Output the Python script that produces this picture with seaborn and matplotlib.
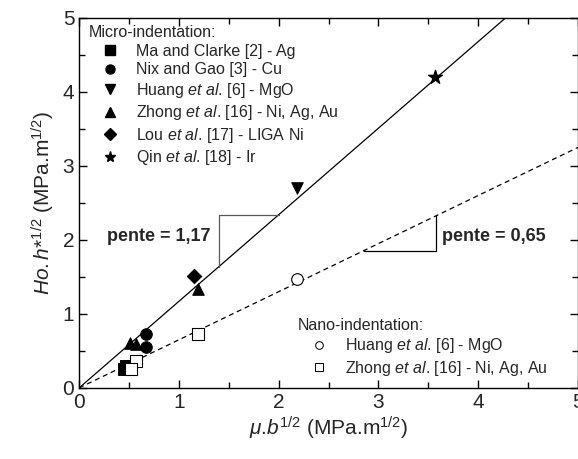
import numpy as np
import pandas as pd
import seaborn as sns
import matplotlib.pyplot as plt
from matplotlib.ticker import MultipleLocator

# micro-indentation data (mu.b^1/2, Ho.h*^1/2)
ma_x = [0.45, 0.47]
ma_y = [0.25, 0.29]
nix_x = [0.67, 0.67]
nix_y = [0.73, 0.55]
huang_x = [2.18]
huang_y = [2.70]
zhong_x = [0.51, 0.57, 1.19]
zhong_y = [0.61, 0.59, 1.34]
lou_x = [1.15]
lou_y = [1.51]
qin_x = [3.57]
qin_y = [4.20]

# nano-indentation data
nhuang_x = [2.18]
nhuang_y = [1.47]
nzhong_x = [0.57, 0.52, 1.19]
nzhong_y = [0.36, 0.26, 0.73]

slope_micro = 1.17
slope_nano = 0.65

sns.set_theme(style="ticks")
plt.rcParams['font.family'] = ['Liberation Sans', 'DejaVu Sans']
plt.rcParams['mathtext.fontset'] = 'custom'
plt.rcParams['mathtext.rm'] = 'Liberation Sans'
plt.rcParams['mathtext.it'] = 'Liberation Sans:italic'
plt.rcParams['mathtext.bf'] = 'Liberation Sans:bold'

fig = plt.figure(figsize=(5.78, 4.59), dpi=100)
ax = fig.add_axes([0.137, 0.155, 0.863, 0.806])

# fitted lines
xl = np.array([0, 5])
sns.lineplot(x=xl, y=slope_micro * xl, color="black", lw=0.9, ax=ax)
sns.lineplot(x=xl, y=slope_nano * xl, color="black", lw=0.9, ax=ax)
ax.lines[1].set_dashes([4, 3])

# slope triangles
x1, x2 = 1.4, 2.0
ax.plot([x1, x1, x2], [slope_micro * x1, slope_micro * x2, slope_micro * x2], color="0.35", lw=0.9)
x3, x4 = 2.85, 3.58
ax.plot([x3, x4, x4], [slope_nano * x3, slope_nano * x3, slope_nano * x4], color="black", lw=0.9)
ax.text(0.28, 2.04, "pente = 1,17", fontsize=13, fontweight="bold", va="center")
ax.text(3.64, 2.05, "pente = 0,65", fontsize=13, fontweight="bold", va="center")

etal = r"$\mathit{et\ al}$."
micro = [
    (ma_x, ma_y, "s", "Ma and Clarke [2] - Ag"),
    (nix_x, nix_y, "o", "Nix and Gao [3] - Cu"),
    (huang_x, huang_y, "v", "Huang " + etal + " [6] - MgO"),
    (zhong_x, zhong_y, "^", "Zhong " + etal + " [16] - Ni, Ag, Au"),
    (lou_x, lou_y, "D", "Lou " + etal + " [17] - LIGA Ni"),
    (qin_x, qin_y, "*", "Qin " + etal + " [18] - Ir"),
]
h_micro = []
for xs, ys, m, lab in micro:
    s = 110 if m == "*" else (55 if m == "D" else 70)
    sns.scatterplot(x=xs, y=ys, marker=m, color="black", edgecolor="black",
                    s=s, ax=ax, zorder=5)
    h_micro.append(plt.Line2D([], [], ls="", marker=m, color="black",
                              markersize=8 if m == "*" else 6.5, label=lab))

nano = [
    (nhuang_x, nhuang_y, "o", "Huang " + etal + " [6] - MgO"),
    (nzhong_x, nzhong_y, "s", "Zhong " + etal + " [16] - Ni, Ag, Au"),
]
h_nano = []
for xs, ys, m, lab in nano:
    sns.scatterplot(x=xs, y=ys, marker=m, facecolor="white", edgecolor="black",
                    linewidth=0.8, s=70, ax=ax, zorder=5)
    h_nano.append(plt.Line2D([], [], ls="", marker=m, markerfacecolor="white",
                             markeredgecolor="black", markeredgewidth=0.7,
                             markersize=5.5, label=lab))

leg_kw = dict(frameon=False, fontsize=11.5, title_fontsize=11.5, alignment="left",
              handlelength=2.7, handletextpad=0.3, labelspacing=0.22,
              borderaxespad=0.0, borderpad=0.4)
leg1 = ax.legend(handles=h_micro, title="Micro-indentation:", loc="upper left",
                 bbox_to_anchor=(0.006, 0.997), **leg_kw)
ax.add_artist(leg1)
ax.legend(handles=h_nano, title="Nano-indentation:", loc="lower left",
          bbox_to_anchor=(0.425, 0.01), **leg_kw)

ax.set_xlim(0, 5)
ax.set_ylim(0, 5)
ax.xaxis.set_major_locator(MultipleLocator(1))
ax.yaxis.set_major_locator(MultipleLocator(1))
ax.xaxis.set_minor_locator(MultipleLocator(0.5))
ax.yaxis.set_minor_locator(MultipleLocator(0.5))
ax.tick_params(which="both", direction="in", top=True, right=True,
               labelsize=15, width=1, color="black")
ax.tick_params(which="major", length=6)
ax.tick_params(which="minor", length=4)
for sp in ax.spines.values():
    sp.set_linewidth(1)
    sp.set_color("black")

ax.set_xlabel(r"$\mathit{\mu}$.$\mathit{b}^{1/2}$ (MPa.m$^{1/2}$)", fontsize=15, labelpad=2)
ax.set_ylabel(r"$\mathit{Ho{.}h{*}}^{1/2}$ (MPa.m$^{1/2}$)", fontsize=15, labelpad=4)

fig.savefig("out.png", dpi=100)
